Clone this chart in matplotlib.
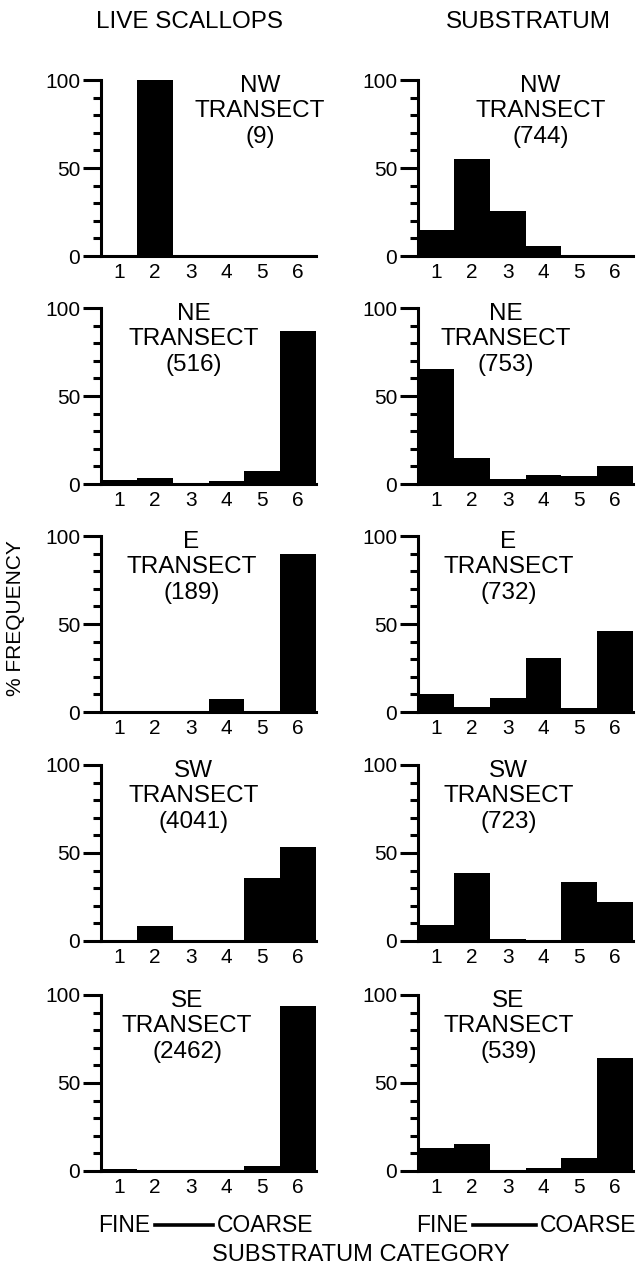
import matplotlib
matplotlib.use('Agg')
import matplotlib.pyplot as plt
from matplotlib.lines import Line2D
from matplotlib.ticker import MultipleLocator

plt.rcParams['font.family'] = ['Liberation Sans', 'DejaVu Sans']

# substratum categories (fine -> coarse)
categories = [1, 2, 3, 4, 5, 6]
transects = ['NW', 'NE', 'E', 'SW', 'SE']

# live scallops, % frequency per category
scallops_nw = [0, 100, 0, 0, 0, 0]
scallops_ne = [2, 3.5, 0.5, 1.5, 7.5, 87]
scallops_e = [0, 0, 0, 7.5, 0, 90]
scallops_sw = [0, 8.5, 0.3, 0.3, 36, 53.5]
scallops_se = [1, 0.7, 0.3, 0.5, 2.8, 94]
scallops_n = [9, 516, 189, 4041, 2462]

# substratum, % frequency per category
substrate_nw = [15, 55, 25.5, 5.7, 0.5, 0.5]
substrate_ne = [65.5, 14.5, 3, 5.2, 4.8, 10]
substrate_e = [10, 3, 8, 30.5, 2.5, 46]
substrate_sw = [9, 38.7, 1, 0.3, 33.6, 22]
substrate_se = [13, 15.3, 0.5, 1.9, 7.4, 64]
substrate_n = [744, 753, 732, 723, 539]

scallops = [scallops_nw, scallops_ne, scallops_e, scallops_sw, scallops_se]
substrate = [substrate_nw, substrate_ne, substrate_e, substrate_sw, substrate_se]

W, H = 640, 1270
fig = plt.figure(figsize=(W / 100, H / 100), dpi=100)

col_left = [101, 418]
panel_w = 215
row_top = [80, 308, 536, 765, 995]
panel_h = 176
label_x = [[0.74, 0.43, 0.42, 0.43, 0.40],
           [0.57, 0.41, 0.42, 0.42, 0.42]]


def fx(x):
    return x / W


def fy(y):
    return 1 - y / H


for col, data, counts in ((0, scallops, scallops_n), (1, substrate, substrate_n)):
    for row in range(5):
        ax = fig.add_axes([fx(col_left[col]), fy(row_top[row] + panel_h),
                           panel_w / W, panel_h / H])
        ax.bar(categories, data[row], width=1.0, color='black', linewidth=0)
        ax.set_xlim(0.5, 6.5)
        ax.set_ylim(0, 100)
        for s in ('top', 'right'):
            ax.spines[s].set_visible(False)
        for s in ('left', 'bottom'):
            ax.spines[s].set_linewidth(2.2)
        ax.set_xticks(categories)
        ax.set_yticks([0, 50, 100])
        ax.yaxis.set_minor_locator(MultipleLocator(10))
        ax.tick_params(axis='y', which='major', length=13, width=2.2,
                       labelsize=15, pad=2)
        ax.tick_params(axis='y', which='minor', length=6, width=2.2)
        ax.tick_params(axis='x', length=0, labelsize=15, pad=5)
        ax.text(label_x[col][row], 1.03,
                f'{transects[row]}\nTRANSECT\n({counts[row]})',
                transform=ax.transAxes, ha='center', va='top',
                fontsize=17.5, linespacing=1.2)

fig.text(fx(190), fy(22), 'LIVE SCALLOPS', ha='center', va='center', fontsize=17.5)
fig.text(fx(528), fy(22), 'SUBSTRATUM', ha='center', va='center', fontsize=17.5)
fig.text(fx(16), fy(618), '% FREQUENCY', rotation=90, ha='center', va='center',
         fontsize=15)

# fine -> coarse scale under each column
for fine_end, line_x0, line_x1 in ((150, 155, 213), (468, 473, 536)):
    fig.text(fx(fine_end), fy(1225), 'FINE', ha='right', va='center', fontsize=16.5)
    fig.add_artist(Line2D([fx(line_x0), fx(line_x1)], [fy(1225), fy(1225)],
                          color='black', linewidth=2.6, transform=fig.transFigure))
    fig.text(fx(line_x1 + 4), fy(1225), 'COARSE', ha='left', va='center',
             fontsize=16.5)

fig.text(fx(361), fy(1255), 'SUBSTRATUM CATEGORY', ha='center', va='center',
         fontsize=17)

plt.savefig('out.png', dpi=100, facecolor='white')
